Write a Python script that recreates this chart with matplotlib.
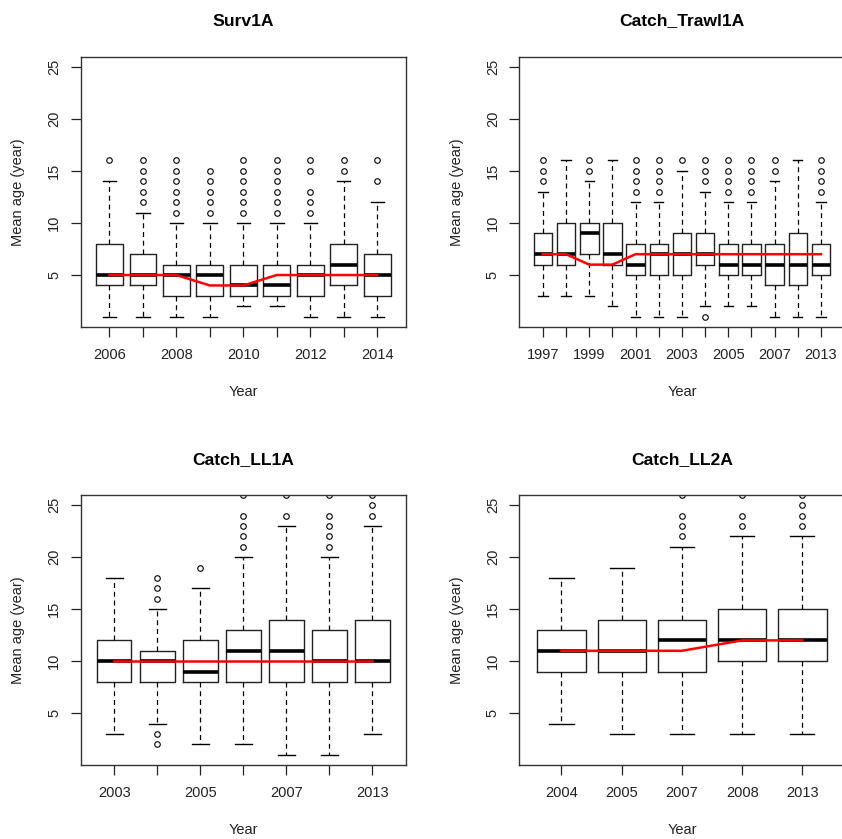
import matplotlib
matplotlib.use("Agg")
import matplotlib.pyplot as plt

plt.rcParams['font.family'] = ['Liberation Sans', 'DejaVu Sans']

# ---- Surv1A
surv_years = ['2006', '2007', '2008', '2009', '2010', '2011', '2012', '2013', '2014']
surv_q1 = [4, 4, 3, 3, 3, 3, 3, 4, 3]
surv_med = [5, 5, 5, 5, 4, 4, 5, 6, 5]
surv_q3 = [8, 7, 6, 6, 6, 6, 6, 8, 7]
surv_lo = [1, 1, 1, 1, 2, 2, 1, 1, 1]
surv_hi = [14, 11, 10, 10, 10, 10, 10, 14, 12]
surv_out = [[16], [12, 13, 14, 15, 16], [11, 12, 13, 14, 15, 16], [11, 12, 13, 14, 15],
            [11, 12, 13, 14, 15, 16], [11, 12, 13, 14, 15, 16], [11, 12, 13, 15, 16],
            [15, 16], [14, 16]]
surv_trend = [5, 5, 5, 4, 4, 5, 5, 5, 5]

# ---- Catch_Trawl1A
trawl_years = ['1997', '1998', '1999', '2000', '2001', '2002', '2003', '2004', '2005',
               '2006', '2007', '2008', '2013']
trawl_q1 = [6, 6, 7, 6, 5, 5, 5, 6, 5, 5, 4, 4, 5]
trawl_med = [7, 7, 9, 7, 6, 7, 7, 7, 6, 6, 6, 6, 6]
trawl_q3 = [9, 10, 10, 10, 8, 8, 9, 9, 8, 8, 8, 9, 8]
trawl_lo = [3, 3, 3, 2, 1, 1, 1, 2, 2, 2, 1, 1, 1]
trawl_hi = [13, 16, 14, 16, 12, 12, 15, 13, 12, 12, 14, 16, 12]
trawl_out = [[14, 15, 16], [], [15, 16], [], [13, 14, 15, 16], [13, 14, 15, 16], [16],
             [1, 14, 15, 16], [13, 14, 15, 16], [13, 14, 15, 16], [15, 16], [],
             [13, 14, 15, 16]]
trawl_trend = [7, 7, 6, 6, 7, 7, 7, 7, 7, 7, 7, 7, 7]

# ---- Catch_LL1A
ll1_years = ['2003', '2004', '2005', '2006', '2007', '2008', '2013']
ll1_q1 = [8, 8, 8, 8, 8, 8, 8]
ll1_med = [10, 10, 9, 11, 11, 10, 10]
ll1_q3 = [12, 11, 12, 13, 14, 13, 14]
ll1_lo = [3, 4, 2, 2, 1, 1, 3]
ll1_hi = [18, 15, 17, 20, 23, 20, 23]
ll1_out = [[], [2, 3, 16, 17, 18], [19], [21, 22, 23, 24, 26], [24, 26],
           [21, 22, 23, 24, 26], [24, 25, 26]]
ll1_trend = [10, 10, 10, 10, 10, 10, 10]

# ---- Catch_LL2A
ll2_years = ['2004', '2005', '2007', '2008', '2013']
ll2_q1 = [9, 9, 9, 10, 10]
ll2_med = [11, 11, 12, 12, 12]
ll2_q3 = [13, 14, 14, 15, 15]
ll2_lo = [4, 3, 3, 3, 3]
ll2_hi = [18, 19, 21, 22, 22]
ll2_out = [[], [], [22, 23, 24, 26], [23, 24, 26], [23, 24, 25, 26]]
ll2_trend = [11, 11, 11, 12, 12]

panels = [
    ('Surv1A', surv_years, surv_q1, surv_med, surv_q3, surv_lo, surv_hi, surv_out, surv_trend, 2),
    ('Catch_Trawl1A', trawl_years, trawl_q1, trawl_med, trawl_q3, trawl_lo, trawl_hi, trawl_out, trawl_trend, 2),
    ('Catch_LL1A', ll1_years, ll1_q1, ll1_med, ll1_q3, ll1_lo, ll1_hi, ll1_out, ll1_trend, 2),
    ('Catch_LL2A', ll2_years, ll2_q1, ll2_med, ll2_q3, ll2_lo, ll2_hi, ll2_out, ll2_trend, 1),
]

W, H = 842, 839
fig = plt.figure(figsize=(W / 100, H / 100), dpi=100)

# axes boxes in pixels: left, top, width, height
boxes = [(80.7, 56.7, 325.3, 270.0), (519.3, 56.7, 325.3, 270.0),
         (80.7, 495.3, 325.3, 269.4), (519.3, 495.3, 325.3, 269.4)]

for (title, years, q1, med, q3, lo, hi, out, trend, step), (l, t, w, h) in zip(panels, boxes):
    ax = fig.add_axes([l / W, 1 - (t + h) / H, w / W, h / H])
    n = len(years)
    stats = []
    for i in range(n):
        stats.append(dict(q1=q1[i], med=med[i], q3=q3[i], whislo=lo[i], whishi=hi[i],
                          fliers=out[i], label=years[i]))
    pos = list(range(1, n + 1))
    ax.bxp(stats, positions=pos, widths=0.8, capwidths=0.4,
           boxprops=dict(color='#222222', lw=1.0),
           medianprops=dict(color='black', lw=2.6, solid_capstyle='butt'),
           whiskerprops=dict(color='black', lw=0.9, linestyle=(0, (4, 3))),
           capprops=dict(color='black', lw=1.0),
           flierprops=dict(marker='o', markersize=4, markerfacecolor='none',
                           markeredgecolor='black', markeredgewidth=0.8))
    ax.plot(pos, trend, color='red', lw=1.8, zorder=5)

    # R style: range 0.5..n+0.5 padded by 4%
    ax.set_xlim(0.5 - 0.04 * n, n + 0.5 + 0.04 * n)
    ax.set_ylim(0.04, 25.96)
    ax.set_yticks([5, 10, 15, 20, 25])
    ax.set_xticks(pos)
    ax.set_xticklabels([y if i % step == 0 else '' for i, y in enumerate(years)])
    ax.tick_params(axis='both', length=7, width=0.9, labelsize=10.5, color='#222222',
                   labelcolor='#222222')
    ax.tick_params(axis='x', pad=8)
    ax.tick_params(axis='y', pad=7)
    for lab in ax.get_yticklabels():
        lab.set_rotation(90)
        lab.set_va('center')
    for sp in ax.spines.values():
        sp.set_linewidth(1.0)
        sp.set_color('#333333')

    ax.text(0.5, 1 + 35.7 / h, title, transform=ax.transAxes, ha='center', va='center',
            fontsize=12.6, fontweight='bold')
    ax.text(0.5, -65.3 / h, 'Year', transform=ax.transAxes, ha='center', va='center',
            fontsize=10.5, color='#222222')
    ax.text(-62.7 / w, 0.5, 'Mean age (year)', transform=ax.transAxes, ha='center',
            va='center', rotation=90, fontsize=10.5, color='#222222')

fig.savefig('out.png', dpi=100)
